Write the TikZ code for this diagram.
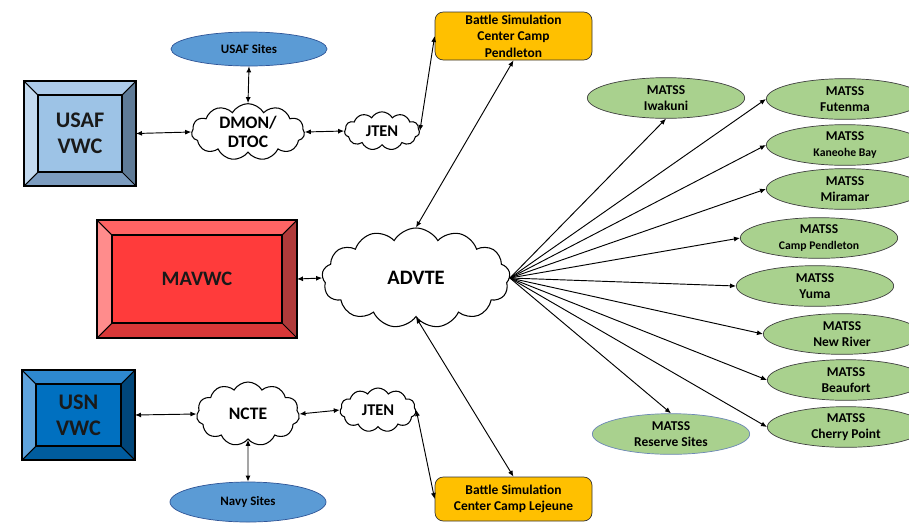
\documentclass[tikz,border=0pt]{standalone}
\usepackage{fontspec}
\setmainfont{Carlito}
\usepackage{xcolor}
\usepackage{tikz}
\usetikzlibrary{arrows.meta,positioning,shapes.geometric,shapes.symbols}

\definecolor{siteblue}{HTML}{5B9BD5}
\definecolor{siteline}{HTML}{2F5597}
\definecolor{matssgreen}{HTML}{A9D18E}
\definecolor{bscgold}{HTML}{FFC000}
\definecolor{usafin}{HTML}{9DC3E6}
\definecolor{usaftop}{HTML}{ADCBEA}
\definecolor{usafleft}{HTML}{C3DAF0}
\definecolor{usafright}{HTML}{5F7B97}
\definecolor{usafbot}{HTML}{7C9CBF}
\definecolor{mavin}{HTML}{FF3B3B}
\definecolor{mavtop}{HTML}{FF6464}
\definecolor{mavleft}{HTML}{FF8C8C}
\definecolor{mavright}{HTML}{B03A3A}
\definecolor{mavbot}{HTML}{D93838}
\definecolor{usnin}{HTML}{0070C0}
\definecolor{usntop}{HTML}{2E88CF}
\definecolor{usnleft}{HTML}{5FA3DC}
\definecolor{usnright}{HTML}{00467A}
\definecolor{usnbot}{HTML}{005C9E}

% bevel frame round a box node: name, inset, top, left, right, bottom
\newcommand{\bevelframe}[6]{%
  \fill[#3] (#1.north west) -- (#1.north east) -- ([shift={(-#2,-#2)}]#1.north east) -- ([shift={(#2,-#2)}]#1.north west) -- cycle;
  \fill[#4] (#1.north west) -- (#1.south west) -- ([shift={(#2,#2)}]#1.south west) -- ([shift={(#2,-#2)}]#1.north west) -- cycle;
  \fill[#5] (#1.north east) -- (#1.south east) -- ([shift={(-#2,#2)}]#1.south east) -- ([shift={(-#2,-#2)}]#1.north east) -- cycle;
  \fill[#6] (#1.south west) -- (#1.south east) -- ([shift={(-#2,#2)}]#1.south east) -- ([shift={(#2,#2)}]#1.south west) -- cycle;
  \draw[line width=0.9pt] ([shift={(#2,-#2)}]#1.north west) rectangle ([shift={(-#2,#2)}]#1.south east);
  \draw[line width=0.9pt] (#1.north west) -- ([shift={(#2,-#2)}]#1.north west)
    (#1.north east) -- ([shift={(-#2,-#2)}]#1.north east)
    (#1.south west) -- ([shift={(#2,#2)}]#1.south west)
    (#1.south east) -- ([shift={(-#2,#2)}]#1.south east);
  \draw[line width=1.4pt] (#1.north west) rectangle (#1.south east);
}

\begin{document}
\begin{tikzpicture}[
x=0.03cm,y=-0.03cm,
bevel/.style={outer sep=0pt,inner sep=0pt,align=center,text=black!90},
net/.style={cloud,cloud puffs=11,cloud puff arc=120,cloud ignores aspect,draw,line width=0.9pt,fill=white,align=center,inner sep=0pt},
sites/.style={ellipse,draw=siteline,fill=siteblue,line width=0.6pt,minimum width=4.68cm,inner sep=0pt,font=\bfseries\fontsize{11}{13}\selectfont},
matss/.style={ellipse,draw=black!75,fill=matssgreen,line width=0.6pt,minimum width=4.72cm,minimum height=1.22cm,inner sep=0pt,align=center,font=\bfseries\fontsize{11.5}{14}\selectfont},
bsc/.style={draw=black!80,fill=bscgold,line width=0.6pt,rounded corners=2.5mm,minimum width=4.71cm,inner sep=0pt,align=center,font=\bfseries\fontsize{11.5}{14}\selectfont},
dbl/.style={{Latex[length=1.8mm,width=1.5mm]}-{Latex[length=1.8mm,width=1.5mm]},line width=0.8pt},
arr/.style={-{Latex[length=1.8mm,width=1.5mm]},line width=0.8pt}
]
\clip (0,0) rectangle (909,523);
\fill[white] (0,0) rectangle (909,523);

% warfare centers
\node[bevel,fill=usafin,minimum width=3.36cm,minimum height=3.15cm,font=\bfseries\fontsize{19}{22}\selectfont] (usafvwc) at (80,133.5) {USAF\\VWC};
\bevelframe{usafvwc}{0.42cm}{usaftop}{usafleft}{usafright}{usafbot}
\node[bevel,fill=mavin,minimum width=6cm,minimum height=3.54cm,font=\bfseries\fontsize{17.5}{20}\selectfont] (mavwc) at (197,279) {MAVWC};
\bevelframe{mavwc}{0.45cm}{mavtop}{mavleft}{mavright}{mavbot}
\node[bevel,fill=usnin,minimum width=3.39cm,minimum height=2.7cm,font=\bfseries\fontsize{19}{22}\selectfont] (usnvwc) at (78.5,415) {USN\\VWC};
\bevelframe{usnvwc}{0.42cm}{usntop}{usnleft}{usnright}{usnbot}

% networks
\node[net,minimum width=3.39cm,minimum height=1.7cm,font=\bfseries\fontsize{15}{16.5}\selectfont] (dmon) at (248,132) {DMON/\\DTOC};
\node[net,minimum width=2.25cm,minimum height=1.15cm,font=\bfseries\fontsize{14}{16}\selectfont] (jtena) at (382,131) {JTEN};
\node[net,minimum width=5.64cm,minimum height=3cm,cloud puffs=13,font=\bfseries\fontsize{17.5}{20}\selectfont] (advte) at (416,278) {ADVTE};
\node[net,minimum width=3.09cm,minimum height=1.92cm,font=\bfseries\fontsize{15}{16.5}\selectfont] (ncte) at (248,414) {NCTE};
\node[net,minimum width=2.28cm,minimum height=1.32cm,font=\bfseries\fontsize{14}{16}\selectfont] (jtenb) at (378,410) {JTEN};

% sites
\node[sites,minimum height=1.02cm] (usafsites) at (249,49) {USAF Sites};
\node[sites,minimum height=1.2cm] (navysites) at (248,502) {Navy Sites};
\node[bsc,minimum height=1.44cm] (bscpend) at (513.5,36) {Battle Simulation\\Center Camp\\Pendleton};
\node[bsc,minimum height=1.32cm] (bsclej) at (513.5,499) {Battle Simulation\\Center Camp Lejeune};

\node[matss] (iwakuni) at (666,98) {MATSS\\Iwakuni};
\node[matss] (futenma) at (845,99) {MATSS\\Futenma};
\node[matss] (kaneohe) at (845,145) {MATSS\\{\fontsize{10}{12}\selectfont Kaneohe Bay}};
\node[matss] (miramar) at (845,189) {MATSS\\Miramar};
\node[matss] (camppend) at (819,238) {MATSS\\{\fontsize{10}{12}\selectfont Camp Pendleton}};
\node[matss] (yuma) at (815,286) {MATSS\\Yuma};
\node[matss] (newriver) at (842,334) {MATSS\\New River};
\node[matss] (beaufort) at (846,380) {MATSS\\Beaufort};
\node[matss] (cherry) at (846,427) {MATSS\\Cherry Point};
\node[matss,draw=siteline!70] (reserve) at (671,434) {MATSS\\Reserve Sites};

% links
\draw[dbl] (usafvwc.east) -- (dmon.west);
\draw[dbl] (usafsites.south) -- (dmon.north);
\draw[dbl] (dmon.east) -- (jtena.west);
\draw[dbl] (jtena.east) -- (bscpend.west);
\draw[dbl] (advte.north) -- (bscpend.south);
\draw[dbl] (mavwc.east) -- (advte.west);
\draw[dbl] (advte.south) -- (bsclej.north);
\draw[dbl] (usnvwc.east) -- (ncte.west);
\draw[dbl] (ncte.south) -- (navysites.north);
\draw[dbl] (ncte.east) -- (jtenb.west);
\draw[dbl] (jtenb.east) -- (bsclej.west);

\draw[arr] (advte.east) -- (iwakuni.south);
\draw[arr] (advte.east) -- (futenma.west);
\draw[arr] (advte.east) -- (kaneohe.west);
\draw[arr] (advte.east) -- (miramar.west);
\draw[arr] (advte.east) -- (camppend.west);
\draw[arr] (advte.east) -- (yuma.west);
\draw[arr] (advte.east) -- (newriver.west);
\draw[arr] (advte.east) -- (beaufort.west);
\draw[arr] (advte.east) -- (cherry.west);
\draw[arr] (advte.east) -- (reserve.north);
\end{tikzpicture}
\end{document}
